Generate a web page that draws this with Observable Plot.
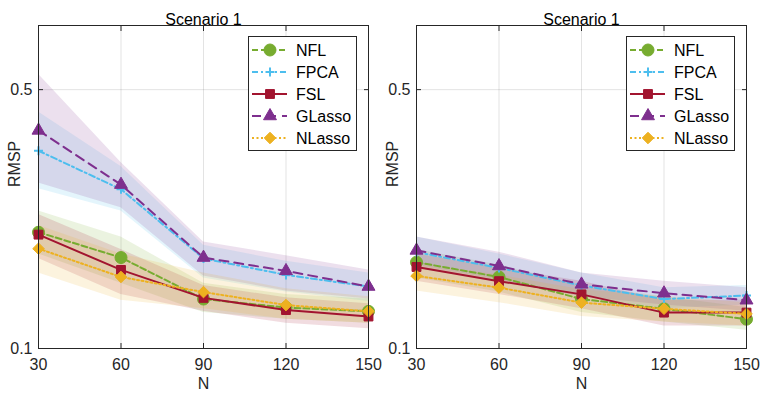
<!DOCTYPE html>
<html><head><meta charset="utf-8">
<script src="https://cdn.jsdelivr.net/npm/d3@7"></script>
<script src="https://cdn.jsdelivr.net/npm/@observablehq/plot@0.6"></script>
<style>
body{margin:0;background:#fff;font-family:"Liberation Sans",Arial,sans-serif;}
#wrap{position:relative;width:768px;height:393px;overflow:hidden;}
.panel{position:absolute;top:0;width:384px;height:393px;}
</style></head>
<body><div id="wrap"></div>
<script>
const N = [30, 60, 90, 120, 150];
const seriesNames = ["NFL", "FPCA", "FSL", "GLasso", "NLasso"];
const titles = ["Scenario 1", "Scenario 1"];
const yTicks = [0.1, 0.5];

// Left panel: mean RMSP
const leftNFL    = [0.206, 0.176, 0.136, 0.129, 0.126];
const leftFPCA   = [0.342, 0.269, 0.175, 0.158, 0.147];
const leftFSL    = [0.203, 0.163, 0.137, 0.127, 0.122];
const leftGLasso = [0.388, 0.277, 0.176, 0.162, 0.147];
const leftNLasso = [0.186, 0.156, 0.142, 0.131, 0.126];
// Left panel: bands (lower / upper)
const leftNFLLo    = [0.180, 0.150, 0.125, 0.120, 0.117];
const leftNFLHi    = [0.235, 0.200, 0.150, 0.140, 0.136];
const leftFPCALo   = [0.270, 0.235, 0.155, 0.142, 0.134];
const leftFPCAHi   = [0.435, 0.310, 0.190, 0.172, 0.160];
const leftFSLLo    = [0.175, 0.140, 0.126, 0.117, 0.113];
const leftFSLHi    = [0.230, 0.185, 0.148, 0.137, 0.132];
const leftGLassoLo = [0.280, 0.240, 0.157, 0.143, 0.136];
const leftGLassoHi = [0.550, 0.318, 0.194, 0.178, 0.163];
const leftNLassoLo = [0.160, 0.135, 0.128, 0.120, 0.117];
const leftNLassoHi = [0.215, 0.180, 0.160, 0.145, 0.138];

// Right panel: mean RMSP
const rightNFL    = [0.171, 0.156, 0.136, 0.128, 0.120];
const rightFPCA   = [0.182, 0.165, 0.148, 0.136, 0.139];
const rightFSL    = [0.166, 0.152, 0.140, 0.125, 0.125];
const rightGLasso = [0.184, 0.167, 0.149, 0.141, 0.135];
const rightNLasso = [0.157, 0.146, 0.133, 0.128, 0.124];
// Right panel: bands
const rightNFLLo    = [0.155, 0.142, 0.125, 0.118, 0.112];
const rightNFLHi    = [0.185, 0.168, 0.147, 0.138, 0.129];
const rightFPCALo   = [0.168, 0.153, 0.138, 0.128, 0.131];
const rightFPCAHi   = [0.200, 0.180, 0.160, 0.146, 0.148];
const rightFSLLo    = [0.152, 0.140, 0.128, 0.115, 0.115];
const rightFSLHi    = [0.180, 0.165, 0.152, 0.135, 0.135];
const rightGLassoLo = [0.165, 0.152, 0.138, 0.131, 0.126];
const rightGLassoHi = [0.200, 0.182, 0.160, 0.152, 0.146];
const rightNLassoLo = [0.143, 0.133, 0.122, 0.118, 0.115];
const rightNLassoHi = [0.170, 0.158, 0.144, 0.138, 0.133];

const colors  = ["#77AC30", "#4DBEEE", "#A2142F", "#7E2F8E", "#EDB120"];
const symbols = ["circle", "plus", "square", "triangle", "diamond2"];
const radii   = [6, 3, 5, 4.8, 5.2];
const dashes  = ["6,3", "6,3,2,3", null, "9,6", "2,2.5"];

const panels = [
  {vals:[leftNFL,leftFPCA,leftFSL,leftGLasso,leftNLasso],
   lo:[leftNFLLo,leftFPCALo,leftFSLLo,leftGLassoLo,leftNLassoLo],
   hi:[leftNFLHi,leftFPCAHi,leftFSLHi,leftGLassoHi,leftNLassoHi],
   left:0, ml:38, mr:16, legendX:248},
  {vals:[rightNFL,rightFPCA,rightFSL,rightGLasso,rightNLasso],
   lo:[rightNFLLo,rightFPCALo,rightFSLLo,rightGLassoLo,rightNLassoLo],
   hi:[rightNFLHi,rightFPCAHi,rightFSLHi,rightGLassoHi,rightNLassoHi],
   left:384, ml:32, mr:22, legendX:242}
];

const wrap = document.getElementById("wrap");
const font = "Liberation Sans, Arial, sans-serif";

panels.forEach((p, pi) => {
  const marks = [
    Plot.gridX(N, {stroke:"#262626", strokeOpacity:0.13}),
    Plot.gridY([0.5], {stroke:"#262626", strokeOpacity:0.13})
  ];
  const rowsAll = seriesNames.map((s, i) => N.map((n, j) => ({N:n, v:p.vals[i][j], lo:p.lo[i][j], hi:p.hi[i][j], s})));
  rowsAll.forEach((rows, i) => {
    marks.push(Plot.areaY(rows, {x:"N", y1:"lo", y2:"hi", fill:colors[i], fillOpacity:0.15}));
  });
  rowsAll.forEach((rows, i) => {
    marks.push(Plot.line(rows, {x:"N", y:"v", stroke:colors[i], strokeWidth:2, strokeDasharray:dashes[i]}));
    const isStroke = symbols[i] === "plus";
    marks.push(Plot.dot(rows, {x:"N", y:"v", symbol:()=>symbols[i], r:radii[i],
      fill: isStroke ? "none" : colors[i], stroke:colors[i], strokeWidth: isStroke ? 2 : 1}));
  });
  marks.push(
    Plot.frame({stroke:"#262626", strokeWidth:1}),
    Plot.axisX({ticks:N, tickSize:-5, tickPadding:15, label:null, fontSize:16}),
    Plot.axisX({anchor:"top", ticks:N, tickSize:-5, tickFormat:()=>"", label:null}),
    Plot.axisY({ticks:yTicks, tickSize:-5, tickPadding:11, tickFormat:d=>String(d), label:null, fontSize:16}),
    Plot.axisY({anchor:"right", ticks:yTicks, tickSize:-5, tickFormat:()=>"", label:null}),
    Plot.text([titles[pi]], {frameAnchor:"top", dy:-12, fontSize:16, fill:"#000"}),
    Plot.text(["N"], {frameAnchor:"bottom", dy:40, fontSize:16, fill:"#262626"}),
    Plot.text(["RMSP"], {frameAnchor:"left", rotate:-90, dx:-24, fontSize:16, fill:"#262626"})
  );
  const chart = Plot.plot({
    width:384, height:393, marginTop:25, marginBottom:45, marginLeft:p.ml, marginRight:p.mr,
    x:{domain:[30,150]},
    y:{type:"log", domain:[0.1, 0.745]},
    style:{fontFamily:font, fontSize:"16px", color:"#262626", background:"transparent"},
    marks
  });
  const div = document.createElement("div");
  div.className = "panel";
  div.style.left = p.left + "px";
  div.appendChild(chart);
  wrap.appendChild(div);

  // legend
  const lw = 109, lh = 115;
  const svg = d3.create("svg").attr("width", lw).attr("height", lh)
    .style("position","absolute").style("left", p.legendX + "px").style("top","36px");
  svg.append("rect").attr("x",0.5).attr("y",0.5).attr("width",lw-1).attr("height",lh-1)
    .attr("fill","#fff").attr("stroke","#262626");
  seriesNames.forEach((s, i) => {
    const y = 14 + i * 22;
    svg.append("line").attr("x1",4).attr("x2",39).attr("y1",y).attr("y2",y)
      .attr("stroke",colors[i]).attr("stroke-width",2).attr("stroke-dasharray",dashes[i]);
    const sym = {circle:d3.symbolCircle, plus:d3.symbolPlus, square:d3.symbolSquare, triangle:d3.symbolTriangle, diamond2:d3.symbolDiamond2}[symbols[i]];
    const isStroke = symbols[i] === "plus";
    svg.append("path").attr("d", d3.symbol(sym, Math.PI*radii[i]*radii[i])())
      .attr("transform", `translate(22,${y})`)
      .attr("fill", isStroke ? "none" : colors[i]).attr("stroke", colors[i]).attr("stroke-width", isStroke ? 2 : 1);
    svg.append("text").attr("x",48).attr("y",y).attr("dy","0.35em")
      .attr("font-family",font).attr("font-size",16).attr("fill","#000").text(s);
  });
  div.appendChild(svg.node());
});
</script></body></html>
